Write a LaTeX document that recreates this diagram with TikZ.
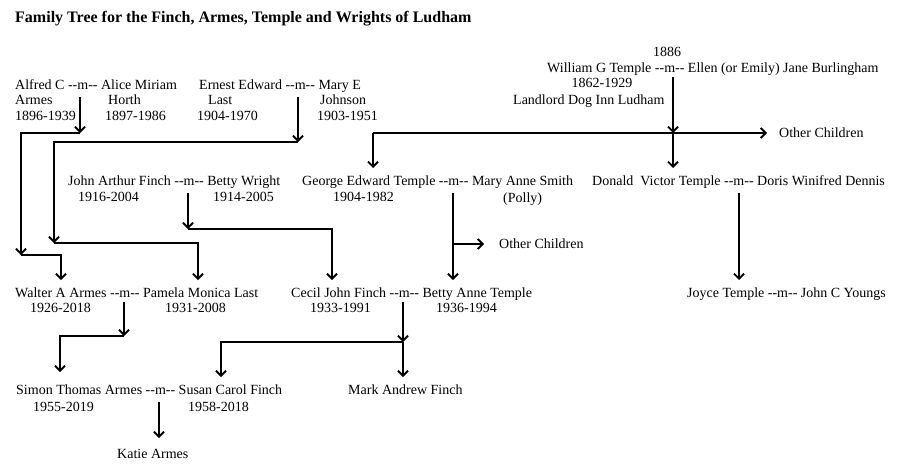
\documentclass[tikz,border=0pt]{standalone}
\usepackage{fontspec}
\setmainfont{Liberation Serif}
\usetikzlibrary{arrows.meta}
\newcommand{\marr}{-{}-m-{}-}
\tikzset{
  lbl/.style={anchor=west,inner sep=0pt,text height=9pt,text depth=0pt,font=\fontsize{14}{16}\selectfont},
  clbl/.style={lbl,anchor=center},
  ttl/.style={anchor=west,inner sep=0pt,font=\bfseries\fontsize{16}{18}\selectfont},
  conn/.style={line width=1.9pt,line join=miter},
  arr/.style={conn,-{Straight Barb[length=5pt,width=10pt]}}
}
\begin{document}
\begin{tikzpicture}[x=1pt,y=-1pt]
\useasboundingbox[fill=white] (0,0) rectangle (900,469);
\node[ttl] (title) at (15,19) {Family Tree for the Finch, Armes, Temple and Wrights of Ludham};
% generation 1
\node[lbl] (alf1) at (15,85) {Alfred C \marr{} Alice Miriam};
\node[lbl] (alf2) at (15,100) {Armes};
\node[lbl] (ali2) at (108,100) {Horth};
\node[lbl] (alf3) at (15,116) {1896-1939};
\node[lbl] (ali3) at (105,116) {1897-1986};
\node[lbl] (ern1) at (199,85) {Ernest Edward \marr{} Mary E};
\node[lbl] (ern2) at (208,100) {Last};
\node[lbl] (mar2) at (320,100) {Johnson};
\node[lbl] (ern3) at (197,116) {1904-1970};
\node[lbl] (mar3) at (317,116) {1903-1951};
\node[clbl] (wyear) at (667,52) {1886};
\node[lbl] (wil1) at (547,68) {William G Temple \marr{} Ellen (or Emily) Jane Burlingham};
\node[clbl] (wil2) at (602,83) {1862-1929};
\node[lbl] (wil3) at (513,100) {Landlord Dog Inn Ludham};
\node[lbl] (oth1) at (779,133) {Other Children};
% generation 2
\node[lbl] (joh1) at (68,181) {John Arthur Finch \marr{} Betty Wright};
\node[lbl] (joh2) at (78,197) {1916-2004};
\node[lbl] (bet2) at (213,197) {1914-2005};
\node[lbl] (geo1) at (302,181) {George Edward Temple \marr{} Mary Anne Smith};
\node[lbl] (geo2) at (333,197) {1904-1982};
\node[lbl] (mas2) at (503,198) {(Polly)};
\node[lbl] (don1) at (592,181) {Donald\ \ Victor Temple \marr{} Doris Winifred Dennis};
\node[lbl] (oth2) at (499,244) {Other Children};
% generation 3
\node[lbl] (wal1) at (15,293) {Walter A Armes \marr{} Pamela Monica Last};
\node[lbl] (wal2) at (30,308) {1926-2018};
\node[lbl] (pam2) at (165,308) {1931-2008};
\node[lbl] (cec1) at (291,293) {Cecil John Finch \marr{} Betty Anne Temple};
\node[lbl] (cec2) at (310,308) {1933-1991};
\node[lbl] (bat2) at (436,308) {1936-1994};
\node[lbl] (joy1) at (687,293) {Joyce Temple \marr{} John C Youngs};
% generation 4
\node[lbl] (sim1) at (16,390) {Simon Thomas Armes \marr{} Susan Carol Finch};
\node[lbl] (sim2) at (33,407) {1955-2019};
\node[lbl] (sus2) at (188,407) {1958-2018};
\node[lbl] (mark) at (348,390) {Mark Andrew Finch};
\node[lbl] (kat) at (117,454) {Katie Armes};
% connector coordinates
\coordinate (a0) at (80,97);
\coordinate (a1) at (80,133);
\coordinate (a2) at (21,133);
\coordinate (a3) at (21,255);
\coordinate (a4) at (61,255);
\coordinate (a5) at (61,280);
\coordinate (e0) at (298,97);
\coordinate (e1) at (298,142);
\coordinate (e2) at (54,142);
\coordinate (e3) at (54,243);
\coordinate (e4) at (198,243);
\coordinate (e5) at (198,280);
\coordinate (w0) at (673,77);
\coordinate (w1) at (673,133);
\coordinate (w2) at (673,168);
\coordinate (w3) at (373,133);
\coordinate (w4) at (373,168);
\coordinate (w5) at (767,133);
\coordinate (f0) at (188,193);
\coordinate (f1) at (188,229);
\coordinate (f2) at (332,229);
\coordinate (f3) at (332,280);
\coordinate (g0) at (453,193);
\coordinate (g1) at (453,244);
\coordinate (g2) at (453,280);
\coordinate (g3) at (484,244);
\coordinate (d0) at (739,193);
\coordinate (d1) at (739,280);
\coordinate (k0) at (124,302);
\coordinate (k1) at (124,336);
\coordinate (k2) at (60,336);
\coordinate (k3) at (60,372);
\coordinate (c0) at (403,302);
\coordinate (c1) at (403,342);
\coordinate (c2) at (403,377);
\coordinate (c3) at (221,342);
\coordinate (c4) at (221,377);
\coordinate (s0) at (159,402);
\coordinate (s1) at (159,438);
% connectors
\draw[arr] (a0) -- (a1);
\draw[arr] (a1) -- (a2) -- (a3);
\draw[arr] (a3) -- (a4) -- (a5);
\draw[arr] (e0) -- (e1);
\draw[arr] (e1) -- (e2) -- (e3);
\draw[arr] (e3) -- (e4) -- (e5);
\draw[arr] (w0) -- (w1);
\draw[arr] (w1) -- (w2);
\draw[arr] (w3) -- (w5);
\draw[arr] (w3) -- (w4);
\draw[arr] (f0) -- (f1);
\draw[arr] (f1) -- (f2) -- (f3);
\draw[arr] (g0) -- (g2);
\draw[arr] (g1) -- (g3);
\draw[arr] (d0) -- (d1);
\draw[arr] (k0) -- (k1);
\draw[arr] (k1) -- (k2) -- (k3);
\draw[arr] (c0) -- (c1);
\draw[arr] (c1) -- (c2);
\draw[arr] (c1) -- (c3) -- (c4);
\draw[arr] (s0) -- (s1);
\end{tikzpicture}
\end{document}
